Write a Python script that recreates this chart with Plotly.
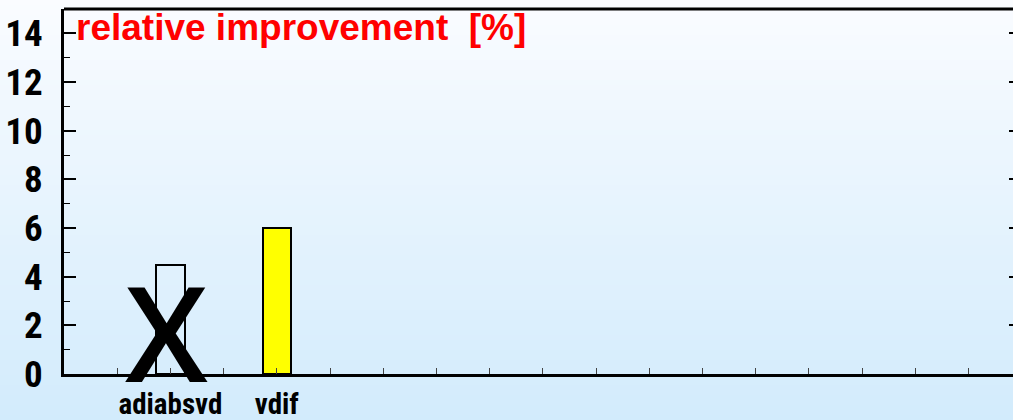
import plotly.graph_objects as go

# ---- data ----
categories = ["adiabsvd", "vdif"]
values = [4.5, 6.0]
bar_fills = ["rgba(0,0,0,0)", "#ffff00"]
y_tick_vals = [0, 2, 4, 6, 8, 10, 12, 14]
title_text = "relative improvement\u00a0 [%]"

# ---- layout constants ----
W, H = 1013, 420
L, R, T, B = 64, 0, 9, 46
slot_of = {"adiabsvd": 2, "vdif": 4}
n_ticks = 17
x_max = (W - L - R) / 53.2
y_max = 15
NARROW = "Liberation Sans Narrow, Arial Narrow, Roboto Condensed, Liberation Sans, Arial"

xs = [slot_of[c] for c in categories]

fig = go.Figure()
fig.add_trace(go.Bar(
    x=xs, y=values, width=0.53,
    marker=dict(color=bar_fills, line=dict(color="black", width=2)),
    showlegend=False, hoverinfo="skip",
))

# gradient background bands
shapes = []
top_c = (250, 252, 255)
bot_c = (210, 235, 252)
nb = 84
ph = H - T - B
for i in range(nb):
    py0 = i * H / nb
    py1 = (i + 1) * H / nb
    f = (i + 0.5) / nb
    c = tuple(int(round(top_c[k] + (bot_c[k] - top_c[k]) * f)) for k in range(3))
    shapes.append(dict(
        type="rect", xref="paper", yref="paper", layer="below",
        x0=-L / (W - L - R) - 0.01, x1=1.01,
        y0=(H - B - py1) / ph, y1=(H - B - py0) / ph,
        line=dict(width=0), fillcolor="rgb(%d,%d,%d)" % c,
    ))
# top border
shapes.append(dict(type="line", xref="paper", yref="paper", x0=0, x1=1.01, y0=1, y1=1,
                   line=dict(color="black", width=3), layer="above"))

tick_pos = list(range(1, n_ticks + 1))
tick_txt = [""] * n_ticks
for c in categories:
    tick_txt[slot_of[c] - 1] = c

fig.update_layout(
    width=W, height=H,
    margin=dict(l=L, r=R, t=T, b=B, pad=0, autoexpand=False),
    paper_bgcolor="#eaf5fe",
    plot_bgcolor="rgba(0,0,0,0)",
    shapes=shapes,
    bargap=0,
    xaxis=dict(
        range=[0, x_max], tickmode="array", tickvals=tick_pos, ticktext=tick_txt,
        ticks="inside", ticklen=6, tickwidth=1, tickcolor="#444444",
        showline=True, linecolor="black", linewidth=3, showgrid=False, zeroline=False,
        ticklabelstandoff=2, automargin=False,
        tickfont=dict(family=NARROW, size=29, color="black", weight="bold"),
    ),
    yaxis=dict(
        range=[0, y_max], tickmode="array", tickvals=y_tick_vals,
        ticks="inside", ticklen=12, tickwidth=2, tickcolor="black",
        minor=dict(dtick=1, ticks="inside", ticklen=6, tickwidth=1, tickcolor="black", showgrid=False),
        showline=True, linecolor="black", linewidth=3, showgrid=False, zeroline=False,
        ticklabelstandoff=11, automargin=False,
        tickfont=dict(family=NARROW, size=37, color="black", weight="bold"),
    ),
    yaxis2=dict(
        overlaying="y", side="right", range=[0, y_max], tickmode="array", tickvals=y_tick_vals,
        ticks="inside", ticklen=4, tickwidth=2, tickcolor="black",
        showticklabels=False, showline=False, showgrid=False, zeroline=False,
    ),
    annotations=[
        dict(text="<b>" + title_text + "</b>", xref="paper", yref="paper",
             x=(74 - L) / (W - L - R), y=1.0, xanchor="left", yanchor="top", yshift=4, showarrow=False,
             font=dict(family="Liberation Sans, Arial", size=37, color="#ff0000")),
        dict(text="X", xref="x", yref="y", x=1.92, y=1.77, xanchor="center", yanchor="middle",
             showarrow=False, font=dict(family="Open Sans, Liberation Sans, Arial", size=133,
                                        color="black", weight=600)),
        dict(text="<b>IMP</b>", xref="paper", yref="paper", x=-L / (W - L - R) - 0.005,
             y=-(418 - (H - B)) / ph, xanchor="left", yanchor="top", yshift=6, showarrow=False,
             font=dict(family="Liberation Sans, Arial", size=36, color="#ff0000")),
    ],
)
# invisible trace to activate yaxis2
fig.add_trace(go.Scatter(x=[0], y=[0], yaxis="y2", mode="markers", marker=dict(opacity=0),
                         showlegend=False, hoverinfo="skip"))

fig.write_html("out.html", config={"displayModeBar": False},
               post_script="document.body.style.margin='0';document.body.style.overflow='hidden';")
